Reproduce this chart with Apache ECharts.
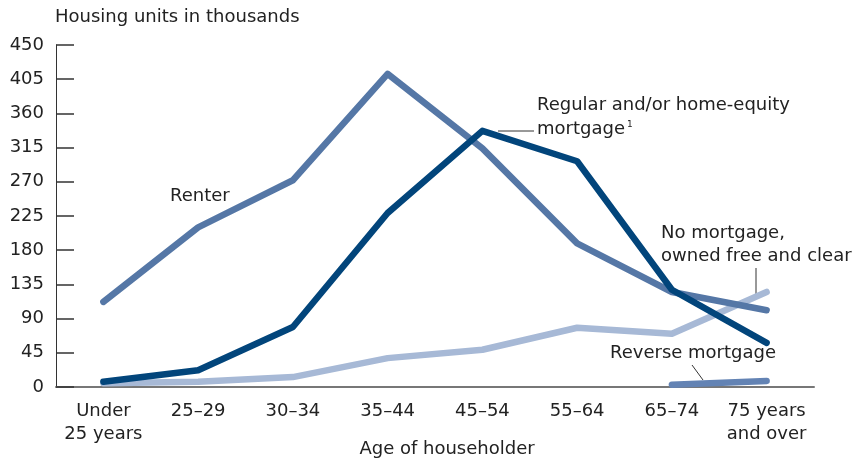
<!DOCTYPE html>
<html><head><meta charset="utf-8">
<script src="https://cdn.jsdelivr.net/npm/echarts@6/dist/echarts.min.js"></script>
<style>html,body{margin:0;padding:0;background:#fff}#c{width:859px;height:458px}</style>
</head><body><div id="c"></div>
<script>
const categories = ["Under\n25 years","25–29","30–34","35–44","45–54","55–64","65–74","75 years\nand over"];
const renter = [112, 210, 272, 412, 314, 189, 125, 101];
const regularMortgage = [7, 22, 79, 229, 337, 297, 128, 58];
const noMortgage = [5, 7, 13, 38, 49, 78, 70, 125];
const reverseMortgage = [null, null, null, null, null, null, 3, 8];
const yTicks = [0,45,90,135,180,225,270,315,360,405,450];

const FONT = "DejaVu Sans";
const FS = 18;
const chart = echarts.init(document.getElementById('c'), null, {renderer:'canvas'});
function line(name, data, color){
  return {name, type:'line', data, symbol:'none', connectNulls:false,
    lineStyle:{color, width:6.5, cap:'round', join:'round'}, z: 2};
}
const txt = (left, top, text, size) => ({type:'text', left, top,
  style:{text, fontFamily:FONT, fontSize:size||FS, fill:'#222'}});
chart.setOption({
  animation:false,
  grid:{left:56, right:45, top:45, bottom:71, outerBoundsMode:'none', containLabel:false},
  xAxis:{type:'category', data:categories, boundaryGap:true,
    axisLine:{lineStyle:{color:'#777', width:2}},
    axisTick:{inside:true, length:7, alignWithLabel:true, lineStyle:{color:'#333', width:1}},
    axisLabel:{fontFamily:FONT, fontSize:FS, color:'#222', margin:13, lineHeight:23, interval:0}
  },
  yAxis:{type:'value', min:0, max:450, interval:45,
    axisLine:{show:true, lineStyle:{color:'#333', width:1}},
    axisTick:{show:true, inside:true, length:18, lineStyle:{color:'#333', width:1.5}},
    splitLine:{show:false},
    axisLabel:{fontFamily:FONT, fontSize:FS, color:'#222', margin:12,
      formatter:v=>yTicks.includes(v)?String(v):''}
  },
  graphic:[
    txt(55, 8, 'Housing units in thousands'),
    {type:'text', x:447, y:449, style:{text:'Age of householder', fontFamily:FONT, fontSize:FS, fill:'#222', align:'center', verticalAlign:'middle'}},
    txt(170, 187, 'Renter'),
    txt(537, 96, 'Regular and/or home-equity'),
    txt(537, 120, 'mortgage'),
    txt(627, 120, '1', 9),
    {type:'line', shape:{x1:498, y1:131, x2:534, y2:131}, style:{stroke:'#333', lineWidth:1}},
    txt(661, 224, 'No mortgage,'),
    txt(661, 247, 'owned free and clear'),
    {type:'line', shape:{x1:756, y1:268, x2:756, y2:296}, style:{stroke:'#333', lineWidth:1}},
    txt(610, 344, 'Reverse mortgage'),
    {type:'line', shape:{x1:692, y1:365, x2:703, y2:380}, style:{stroke:'#333', lineWidth:1}}
  ],
  series:[
    line('No mortgage', noMortgage, '#a7b9d6'),
    line('Renter', renter, '#5577a6'),
    line('Regular mortgage', regularMortgage, '#02457b'),
    line('Reverse mortgage', reverseMortgage, '#6383b4')
  ]
});
</script></body></html>
